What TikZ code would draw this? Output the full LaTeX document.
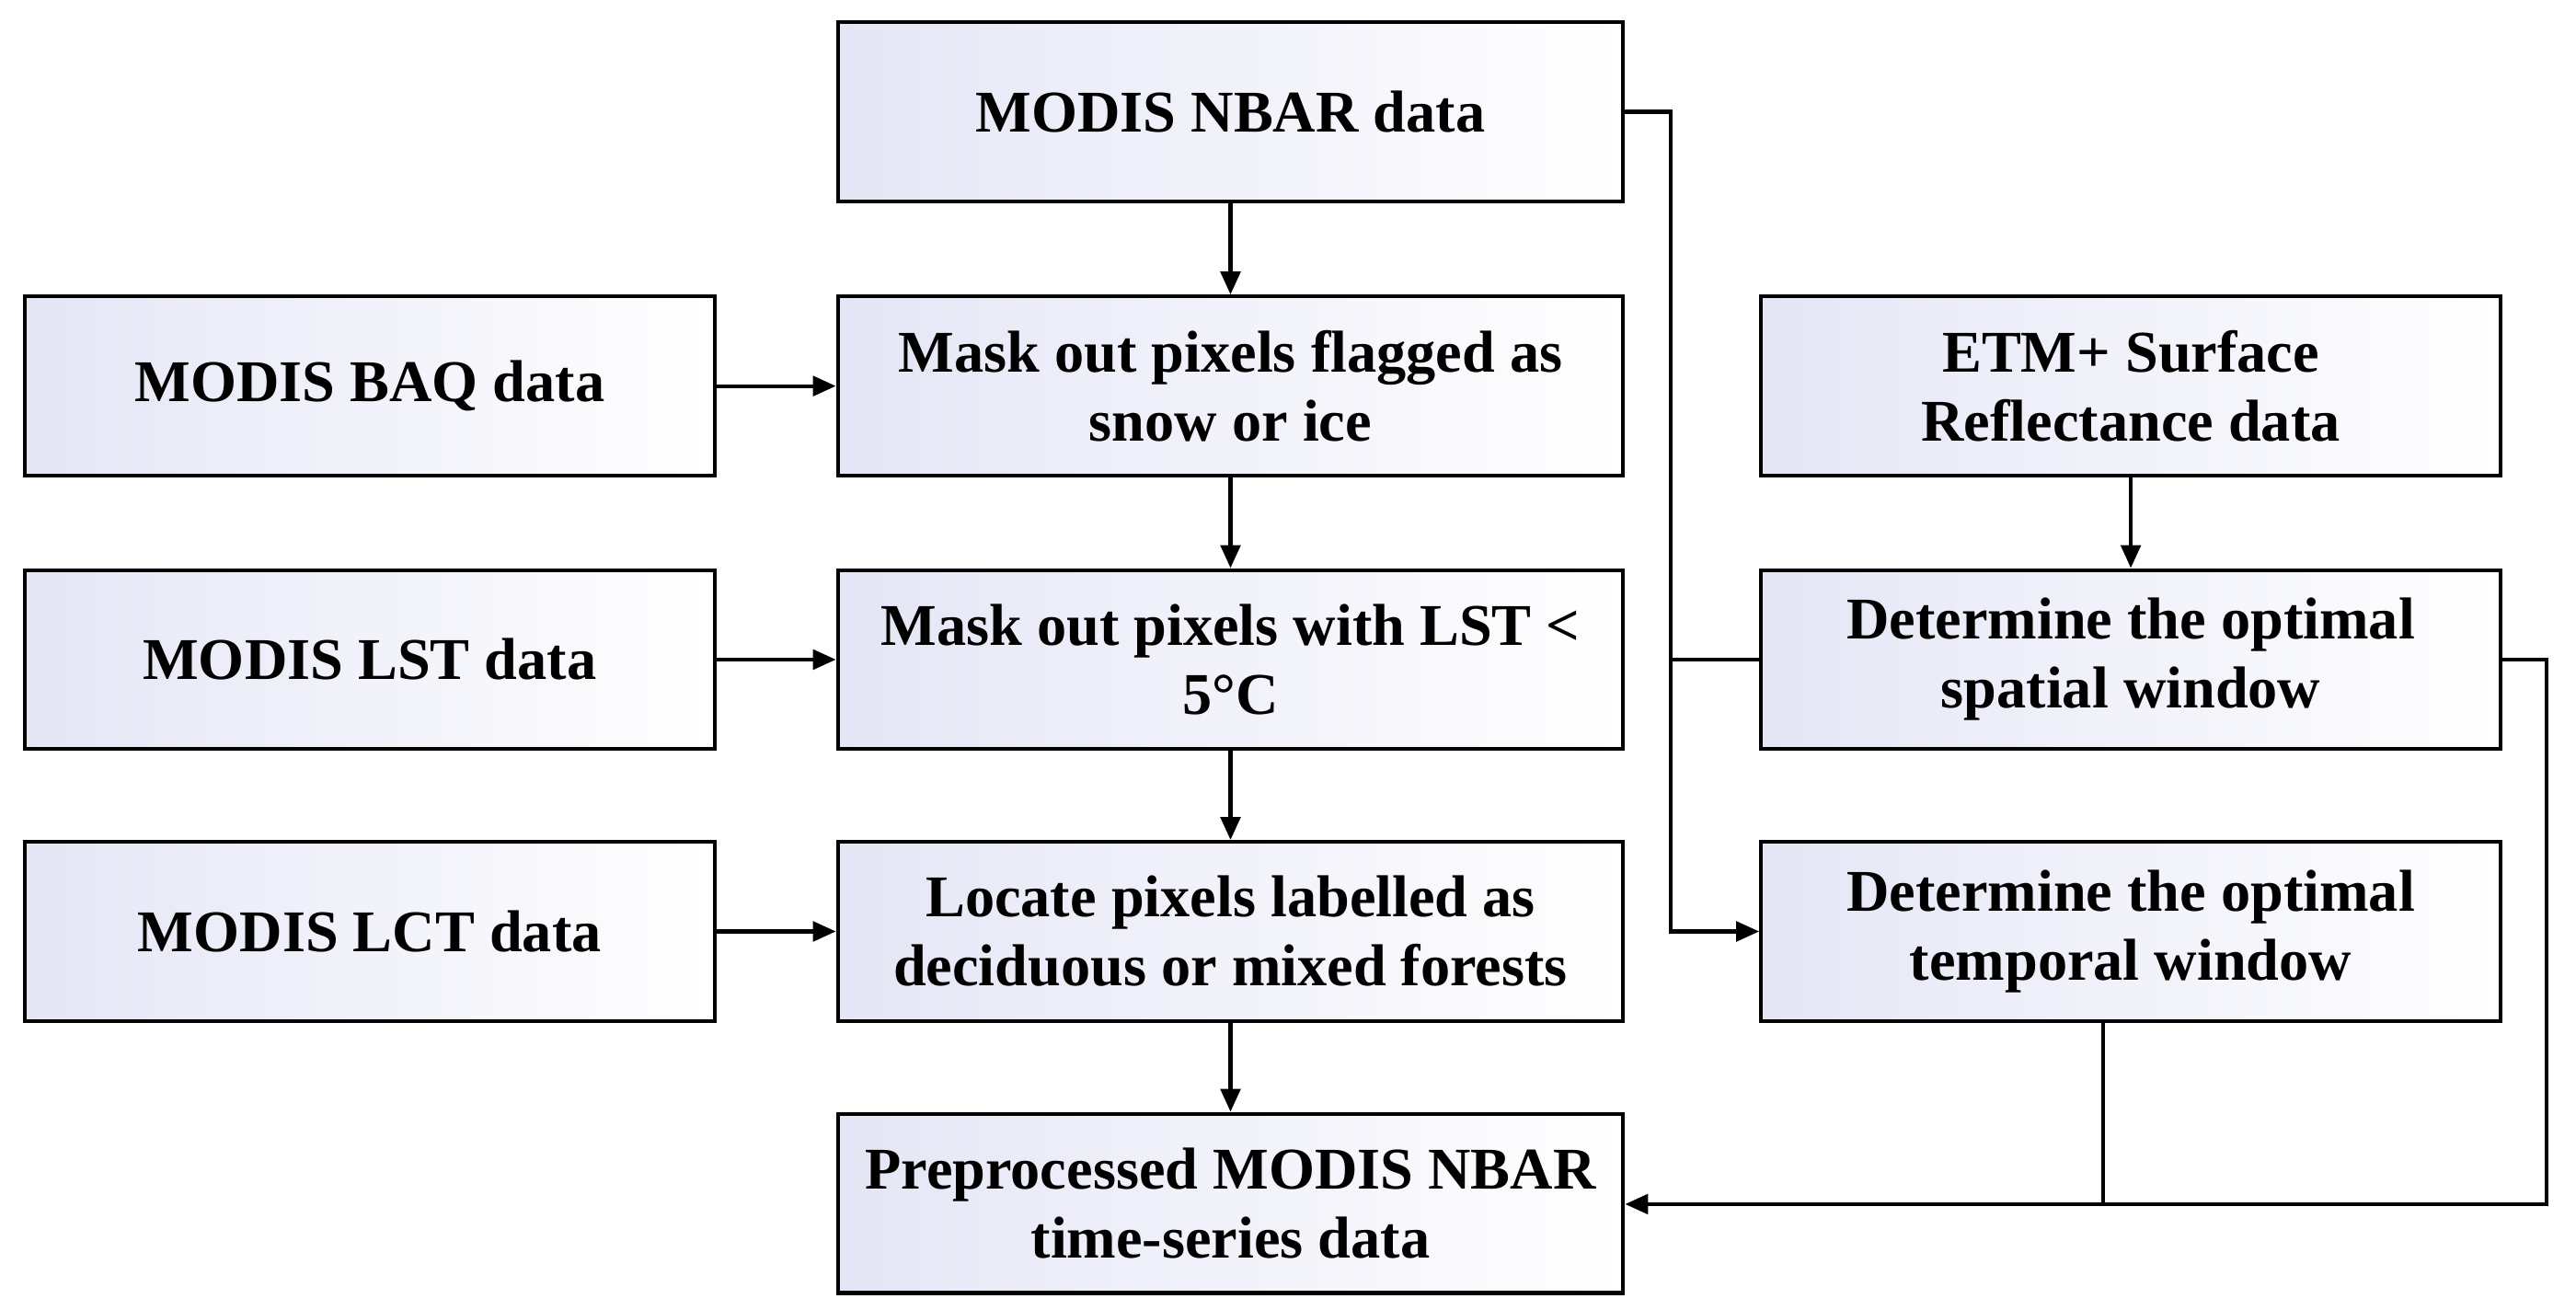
\documentclass[tikz,border=0pt]{standalone}
\usepackage{fontspec}
\setmainfont{Liberation Serif}
\usetikzlibrary{arrows.meta}
\begin{document}
\begin{tikzpicture}[x=0.5pt,y=-0.5pt,
  box/.style={draw=black,line width=1.2pt,left color={rgb,255:red,228;green,230;blue,245},right color=white,
    minimum width=239pt,minimum height=54.5pt,align=center,font=\bfseries\fontsize{18}{21}\selectfont,inner sep=2pt},
  sbox/.style={box,minimum width=210pt},
  rbox/.style={box,minimum width=225pt},
  ln/.style={line width=1.2pt},
  ar/.style={ln,-{Triangle[length=7pt,width=6pt]}}]
\useasboundingbox (0,0) rectangle (1568,797);
\node[box] (nbar) at (749,68) {MODIS NBAR data};
\node[sbox] (baq) at (225,235) {MODIS BAQ data};
\node[box] (snow) at (749,235) {Mask out pixels flagged as\\snow or ice};
\node[rbox] (etm) at (1297,235) {ETM+ Surface\\Reflectance data};
\node[sbox] (lst) at (225,401.5) {MODIS LST data};
\node[box] (mlst) at (749,401.5) {Mask out pixels with LST <\\5°C};
\node[rbox] (spat) at (1297,401.5) {Determine the optimal\\spatial window};
\node[sbox] (lct) at (225,567) {MODIS LCT data};
\node[box] (loc) at (749,567) {Locate pixels labelled as\\deciduous or mixed forests};
\node[rbox] (temp) at (1297,567) {Determine the optimal\\temporal window};
\node[box] (pre) at (749,732.5) {Preprocessed MODIS NBAR\\time-series data};
\coordinate (a1) at (1017,68);
\coordinate (a2) at (1017,567);
\coordinate (a3) at (1017,401.5);
\coordinate (b1) at (1550,401.5);
\coordinate (b2) at (1550,733);
\coordinate (c1) at (1280,733);
\draw[ar] (nbar) -- (snow);
\draw[ar] (snow) -- (mlst);
\draw[ar] (mlst) -- (loc);
\draw[ar] (loc) -- (pre);
\draw[ar] (baq) -- (snow);
\draw[ar] (lst) -- (mlst);
\draw[ar] (lct) -- (loc);
\draw[ar] (etm) -- (spat);
\draw[ar] (nbar.east) -- (a1) -- (a2) -- (temp.west);
\draw[ln] (spat.west) -- (a3);
\draw[ar] (spat.east) -- (b1) -- (b2) -- (pre.east |- b2);
\draw[ln] (temp.south -| c1) -- (c1);
\end{tikzpicture}
\end{document}
